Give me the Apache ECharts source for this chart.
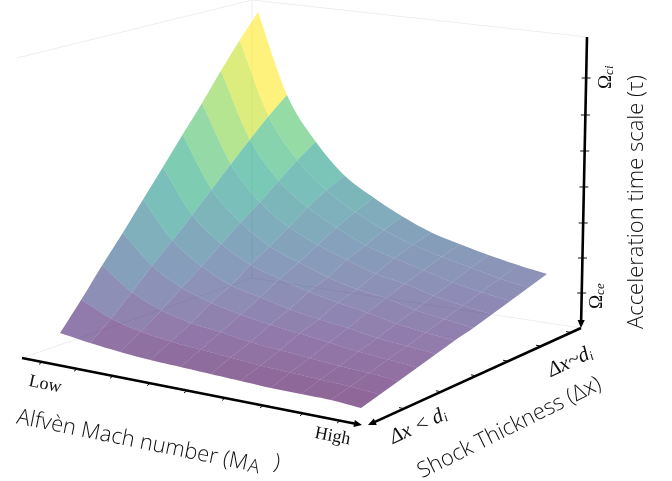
<!DOCTYPE html>
<html><head><meta charset="utf-8">
<style>html,body{margin:0;padding:0;background:#fff}#c{width:672px;height:481px;filter:blur(0.4px)}</style>
<script src="https://cdn.jsdelivr.net/npm/echarts@6/dist/echarts.min.js"></script>
</head><body><div id="c"></div>
<script>
// Surface heights, one row per Mach step (low to high), one column per thickness step (thin to thick)
const surfaceLow   = [32,57,83,107,132,156,180,203,227,249,269];
const surfaceM1    = [28,44,62,80,97,114,131,148,164,179,192];
const surfaceM2    = [25,37,50,64,77,91,104,116,129,141,151];
const surfaceM3    = [23,33,43,55,64,76,86,97,108,117,123];
const surfaceM4    = [22,31,40,49,58,68,76,85,94,101,107];
const surfaceM5    = [21,29,36,45,52,61,67,76,82,89,94];
const surfaceM6    = [20,27,34,42,48,56,61,68,75,80,84];
const surfaceM7    = [19,26,32,39,45,52,58,64,69,74,78];
const surfaceM8    = [19,25,30,36,41,47,52,58,63,69,73];
const surfaceM9    = [19,24,29,34,39,44,49,54,59,64,69];
const surfaceHigh  = [17,22,27,32,37,42,46,51,56,61,66];
const surface = [surfaceLow,surfaceM1,surfaceM2,surfaceM3,surfaceM4,surfaceM5,surfaceM6,surfaceM7,surfaceM8,surfaceM9,surfaceHigh];

const viridis = ['#440154','#482475','#414487','#355f8d','#2a788e','#21918c','#22a884','#44bf70','#7ad151','#bddf26','#fde725'];
const machLabels = ['Low','High'];
const thicknessLabels = ['Δx < ', 'Δx~'];
const timeLabels = ['Ω','ce','ci'];
const machTitle = 'Alfvèn Mach number (M';
const thicknessTitle = 'Shock Thickness (Δx)';
const timeTitle = 'Acceleration time scale (τ)';

// view projection of the surface: ground quad corners
const Q = {a:[60,365], b:[361,425], c:[547,340], d:[258,281]};
function project(i,j,z){
  const u=i/10,v=j/10;
  const warp=v*1.084/(1+0.084*v);
  const vx=v+(warp-v)*(1-0.8*u);
  const bl=(k,w)=>Q.a[k]*(1-u)*(1-w)+Q.b[k]*u*(1-w)+Q.c[k]*u*w+Q.d[k]*(1-u)*w;
  return [bl(0,vx),bl(1,v)-z];
}
// smooth drawing of the surface sheet between the read grid values
function cr(p0,p1,p2,p3,t){
  return 0.5*(2*p1+(p2-p0)*t+(2*p0-5*p1+4*p2-p3)*t*t+(3*p1-p0-3*p2+p3)*t*t*t);
}
function at(i,j){
  const ii=Math.max(0,Math.min(10,i)), jj=Math.max(0,Math.min(10,j));
  let z=surface[ii][jj];
  if(i<0) z=2*surface[0][jj]-surface[-i][jj];
  if(i>10) z=2*surface[10][jj]-surface[20-i][jj];
  if(j<0) z+=surface[ii][0]-surface[ii][-j];
  if(j>10) z+=surface[ii][10]-surface[ii][20-j];
  return z;
}
function sheet(s,t){
  const i=Math.min(9,Math.floor(s)),j=Math.min(9,Math.floor(t)),fs=s-i,ft=t-j;
  const col=[];
  for(let a=-1;a<=2;a++) col.push(cr(at(i+a,j-1),at(i+a,j),at(i+a,j+1),at(i+a,j+2),ft));
  return cr(col[0],col[1],col[2],col[3],fs);
}
function hex(c){return [1,3,5].map(k=>parseInt(c.substr(k,2),16));}
function colour(t){
  t=Math.max(0,Math.min(1,t))*10;const k=Math.min(9,Math.floor(t)),f=t-k;
  const a=hex(viridis[k]),b=hex(viridis[k+1]);
  return 'rgba('+a.map((v,n)=>Math.round(v+(b[n]-v)*f)).join(',')+',0.6)';
}
const cells=[];
for(let i=0;i<10;i++)for(let j=9;j>=0;j--){
  cells.push([i,j,surface[i][j],surface[i+1][j],surface[i+1][j+1],surface[i][j+1]]);
}
const means=cells.map(c=>(c[2]+c[3]+c[4]+c[5])/4);
const zMin=Math.min(...means),zMax=Math.max(...means);

// box frame
const faint=[[17,58,252,0],[252,0,587,37],[252,0,252,278],[22,358,252,278],[581,328,252,278]];
const axes=[[22,358,362,425],[581,328,368,425],[587,37,581,328]];
const machTicks=[42,77,113,150,187,225,263,303,340];
const thickTicks=[571,541,508,476,441,404];
const timeTicks=[78,115,151,187,223,258,293];

function lineEl(api,d,style){
  const p=api.coord([d[0],d[1]]),q=api.coord([d[2],d[3]]);
  return {type:'line',shape:{x1:p[0],y1:p[1],x2:q[0],y2:q[1]},style:style};
}
function axisItem(params,api){
  const d=[api.value(0),api.value(1),api.value(2),api.value(3)];
  const q=api.coord([d[2],d[3]]),p=api.coord([d[0],d[1]]);
  const a=Math.atan2(q[1]-p[1],q[0]-p[0]),L=8,W=3.6;
  const cx=Math.cos(a),sy=Math.sin(a);
  return {type:'group',children:[
    {type:'line',shape:{x1:p[0],y1:p[1],x2:q[0]-cx*4,y2:q[1]-sy*4},style:{stroke:'#000',lineWidth:2.6}},
    {type:'polygon',shape:{points:[[q[0],q[1]],[q[0]-cx*L-sy*W,q[1]-sy*L+cx*W],[q[0]-cx*L+sy*W,q[1]-sy*L-cx*W]]},style:{fill:'#000'}}
  ]};
}
const tickSegs=[];
machTicks.forEach(x=>{const y=358+(x-22)*67/340;tickSegs.push([x,y,x-3,y+2.5]);});
thickTicks.forEach(x=>{const y=328+(581-x)*97/213;tickSegs.push([x,y,x-5,y-1]);});
timeTicks.forEach(y=>{const x=587-(y-37)*6/291;tickSegs.push([x-4.5,y,x+4.5,y]);});

const sans='"Open Sans"',serif='"Liberation Serif"';
function txt(text,x,y,rotDeg,size,family,extra){
  return Object.assign({type:'text',x:x,y:y,rotation:rotDeg*Math.PI/180,z:50,
    style:Object.assign({text:text,fontFamily:family,fontSize:size,fill:'#111',fontWeight:300,align:'left',verticalAlign:'middle'},extra||{})});
}
const mathRich={s:{fontFamily:serif,fontStyle:'italic',fontSize:13,padding:[8,0,0,0],fill:'#111'},m:{fontFamily:serif,fontStyle:'italic',fontSize:21,fill:'#111'},d:{fontFamily:serif,fontSize:19,fill:'#111'}};

const graphics=[
  txt(machLabels[0],29,381,-12,18,serif,{fill:'#111',fontWeight:400}),
  txt(machLabels[1],315,433,-11,18,serif,{fill:'#111',fontWeight:400}),
  txt(machTitle,17,417,-11.5,22,sans),
  txt('A',248,466,-11.5,19,sans),
  txt(')',274,462,-11.5,22,sans),
  txt('{m|'+thicknessLabels[0]+'d}{s|i}',391,439,25,18,serif,{rich:mathRich,fontWeight:400}),
  txt('{m|'+thicknessLabels[1]+'d}{s|i}',549,372,25,18,serif,{rich:mathRich,fontWeight:400}),
  txt(thicknessTitle,419,473,26.5,22,sans),
  txt('{d|'+timeLabels[0]+'}{s|'+timeLabels[2]+'}',606,89,90,19,serif,{rich:mathRich,fontWeight:400}),
  txt('{d|'+timeLabels[0]+'}{s|'+timeLabels[1]+'}',597,309,90,19,serif,{rich:mathRich,fontWeight:400}),
  txt(timeTitle,637,329,90,22,sans)
];

const SUB=6;
const chart=echarts.init(document.getElementById('c'),null,{renderer:'canvas'});
chart.setOption({
  animation:false,
  grid:{left:0,right:0,top:0,bottom:0},
  xAxis:{type:'value',min:0,max:672,show:false},
  yAxis:{type:'value',min:0,max:481,inverse:true,show:false},
  tooltip:{show:false},
  graphic:graphics,
  series:[
    {type:'custom',silent:true,clip:false,z:1,data:faint,
      renderItem:(p,api)=>lineEl(api,[api.value(0),api.value(1),api.value(2),api.value(3)],{stroke:'#eeeeee',lineWidth:1})},
    {type:'custom',silent:true,clip:false,z:2,data:cells,
      renderItem:(p,api)=>{
        const i=api.value(0),j=api.value(1),z=[api.value(2),api.value(3),api.value(4),api.value(5)];
        const pts=[];
        const add=(s,t)=>pts.push(api.coord(project(s,t,sheet(s,t))));
        for(let k=0;k<SUB;k++) add(i+k/SUB,j);
        for(let k=0;k<SUB;k++) add(i+1,j+k/SUB);
        for(let k=0;k<SUB;k++) add(i+1-k/SUB,j+1);
        for(let k=0;k<SUB;k++) add(i,j+1-k/SUB);
        const t=((z[0]+z[1]+z[2]+z[3])/4-zMin)/(zMax-zMin);
        return {type:'polygon',shape:{points:pts},style:{fill:colour(t)}};
      }},
    {type:'custom',silent:true,clip:false,z:3,data:tickSegs,
      renderItem:(p,api)=>lineEl(api,[api.value(0),api.value(1),api.value(2),api.value(3)],{stroke:'#111',lineWidth:1})},
    {type:'custom',silent:true,clip:false,z:4,data:axes,renderItem:axisItem}
  ]
});
</script></body></html>
